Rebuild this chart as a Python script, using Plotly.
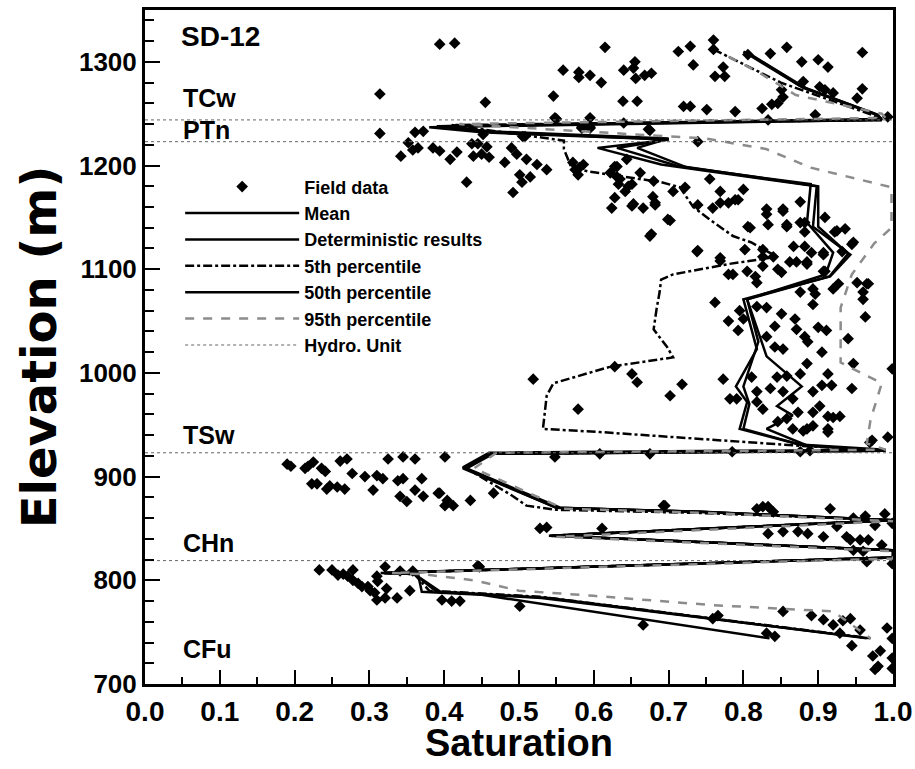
import plotly.graph_objects as go

# ---------------- data ----------------
field_sat = [
    0.394, 0.414, 0.314, 0.455, 0.615, 0.729, 0.713, 0.760, 0.760, 0.806, 0.836, 0.858, 0.959,
    0.559, 0.580, 0.580, 0.595, 0.610, 0.640, 0.653, 0.655, 0.656, 0.668, 0.677, 0.733, 0.773,
    0.762, 0.775, 0.546, 0.639, 0.658, 0.720, 0.729, 0.751, 0.789, 0.825, 0.838, 0.846, 0.853,
    0.851, 0.880, 0.878, 0.900, 0.913, 0.902, 0.909, 0.920, 0.959, 0.952,
    0.548, 0.595, 0.640, 0.584, 0.595, 0.673, 0.833, 0.896, 0.739, 0.505, 0.993,
    0.314, 0.361, 0.372, 0.452, 0.550, 0.584, 0.595, 0.675, 0.508,
    0.352, 0.342, 0.358, 0.365, 0.385, 0.394, 0.408, 0.417, 0.437, 0.445, 0.457, 0.439, 0.450,
    0.460, 0.430, 0.481, 0.490, 0.497, 0.510, 0.524, 0.537, 0.501, 0.515, 0.504, 0.492, 0.572,
    0.575, 0.581, 0.586, 0.579, 0.628, 0.622, 0.631, 0.633, 0.651, 0.662, 0.642,
    0.631, 0.644, 0.646, 0.635, 0.680, 0.706, 0.628, 0.679, 0.653, 0.666, 0.682, 0.624, 0.702,
    0.677, 0.739, 0.755, 0.769, 0.769, 0.780, 0.793, 0.800, 0.831, 0.831, 0.853, 0.858, 0.833,
    0.806, 0.909, 0.882, 0.925, 0.936, 0.945, 0.882, 0.867, 0.891, 0.907, 0.932, 0.802, 0.826,
    0.769, 0.739, 0.759, 0.789, 0.722,
    0.922, 0.947, 0.876, 0.876, 0.882, 0.853, 0.858, 0.809, 0.738, 0.675, 0.699, 0.651, 0.682,
    0.826, 0.840, 0.871, 0.885, 0.907, 0.769, 0.780, 0.805, 0.816, 0.826, 0.851, 0.876, 0.893,
    0.909, 0.927, 0.952, 0.965, 0.960,
    0.786, 0.818, 0.846, 0.862, 0.885, 0.907, 0.920, 0.967, 0.960, 0.963, 0.940, 0.947, 0.945,
    0.893, 0.905, 0.918, 0.913, 0.905, 0.885, 0.876, 0.858, 0.845, 0.853, 0.866, 0.873, 0.893,
    0.902, 0.913, 0.920, 0.929, 0.913, 0.893, 0.885, 0.866, 0.858, 0.846, 0.818, 0.826, 0.836,
    0.818, 0.782, 0.791, 0.773, 0.811, 0.831, 0.842, 0.853, 0.871, 0.900, 0.911, 0.882, 0.886,
    0.869, 0.842, 0.851, 0.818, 0.831, 0.795, 0.800, 0.793, 0.780, 0.762, 0.893, 0.896, 0.999,
    0.519, 0.628, 0.651, 0.658, 0.718, 0.702, 0.579,
    0.993, 0.969, 0.548, 0.608, 0.675, 0.785, 0.876, 0.889, 0.880, 0.913, 0.972,
    0.190, 0.195, 0.214, 0.218, 0.225, 0.236, 0.241, 0.261, 0.270, 0.277, 0.294, 0.310, 0.318,
    0.338, 0.345, 0.370, 0.361, 0.401, 0.223, 0.230, 0.243, 0.247, 0.257, 0.267, 0.305, 0.341,
    0.350, 0.361, 0.372, 0.392, 0.404, 0.412, 0.401, 0.435, 0.466, 0.394, 0.325, 0.345,
    0.528, 0.537, 0.611, 0.695,
    0.693, 0.818, 0.826, 0.833, 0.840, 0.916, 0.947, 0.963, 0.976, 0.989, 0.925, 0.833, 0.853,
    0.873, 0.886, 0.907, 0.938, 0.943, 0.956, 0.967, 0.985, 0.947, 0.960, 0.965, 0.999, 0.999,
    0.447, 0.358,
    0.233, 0.250, 0.258, 0.265, 0.271, 0.278, 0.278, 0.285, 0.290, 0.298, 0.301, 0.321, 0.310,
    0.311, 0.307, 0.310, 0.321, 0.323, 0.337, 0.341, 0.354, 0.397, 0.410, 0.421, 0.445, 0.501,
    0.666, 0.759, 0.766, 0.831, 0.842, 0.853, 0.891, 0.907, 0.920, 0.933, 0.943, 0.956, 0.945,
    0.992, 0.929, 0.983, 0.973, 0.999, 0.999, 0.980, 0.976, 0.999,
]
field_elev = [
    1317, 1318, 1269, 1261, 1314, 1315, 1310, 1321, 1312, 1307, 1308, 1314, 1309,
    1292, 1290, 1285, 1287, 1280, 1292, 1294, 1300, 1284, 1287, 1289, 1297, 1295,
    1286, 1286, 1267, 1262, 1262, 1257, 1257, 1254, 1252, 1255, 1259, 1260, 1266,
    1273, 1281, 1300, 1302, 1295, 1276, 1273, 1270, 1274, 1265,
    1246, 1246, 1241, 1237, 1237, 1235, 1244, 1249, 1223, 1228, 1247,
    1231, 1232, 1233, 1230, 1245, 1236, 1236, 1234, 1228,
    1222, 1209, 1215, 1217, 1217, 1214, 1206, 1213, 1221, 1221, 1218, 1209, 1211,
    1208, 1184, 1203, 1217, 1211, 1206, 1201, 1196, 1191, 1189, 1184, 1174, 1203,
    1196, 1198, 1201, 1191, 1199, 1193, 1189, 1182, 1182, 1193, 1175,
    1199, 1206, 1180, 1187, 1185, 1175, 1169, 1170, 1163, 1159, 1164, 1159, 1147,
    1134, 1118, 1187, 1175, 1164, 1164, 1167, 1177, 1158, 1153, 1156, 1143, 1143,
    1141, 1150, 1145, 1137, 1139, 1124, 1122, 1122, 1116, 1116, 1117, 1119, 1119,
    1111, 1162, 1159, 1167, 1179,
    1136, 1126, 1165, 1145, 1136, 1158, 1141, 1140, 1117, 1132, 1148, 1161, 1162,
    1112, 1112, 1107, 1107, 1114, 1108, 1095, 1098, 1093, 1103, 1097, 1078, 1081,
    1098, 1086, 1087, 1086, 1078,
    1095, 1087, 1100, 1107, 1105, 1098, 1081, 1086, 1071, 1054, 1033, 1009, 985,
    982, 988, 988, 999, 1020, 1009, 999, 997, 996, 982, 975, 962, 962,
    968, 958, 957, 958, 946, 949, 946, 946, 956, 953, 972, 965, 985,
    982, 975, 975, 994, 996, 1035, 1025, 1023, 1042, 1044, 1041, 1035, 1030,
    1052, 1045, 1057, 1064, 1063, 1060, 1052, 1041, 1050, 1068, 1066, 1076, 1004,
    994, 1006, 999, 991, 989, 978, 965,
    938, 933, 919, 922, 922, 924, 924, 925, 944, 943, 935,
    912, 910, 908, 910, 914, 908, 905, 915, 917, 903, 900, 901, 898,
    896, 898, 898, 917, 919, 893, 893, 888, 891, 890, 888, 887, 881,
    876, 887, 881, 884, 877, 872, 872, 877, 884, 884, 917, 919,
    850, 851, 850, 872,
    872, 869, 871, 871, 866, 869, 860, 862, 853, 864, 852, 845, 847,
    847, 845, 842, 842, 839, 839, 839, 834, 829, 828, 818, 855, 816,
    813, 809,
    810, 810, 805, 806, 804, 810, 800, 797, 794, 794, 790, 813, 804,
    799, 788, 781, 783, 792, 783, 809, 790, 781, 780, 780, 814, 775,
    757, 763, 766, 749, 746, 770, 766, 762, 757, 761, 763, 752, 737,
    754, 749, 732, 727, 744, 725, 717, 714, 715,
]

mean_sat = [0.805, 0.880, 0.978, 0.985, 0.380, 0.450, 0.700, 0.605, 0.690, 0.898, 0.893, 0.943,
            0.916, 0.800, 0.818, 0.790, 0.805, 0.795, 0.880, 0.990, 0.460, 0.425, 0.550, 0.740,
            1.000, 0.540, 1.000, 1.000, 0.315, 0.360, 0.390, 0.530, 0.970]
mean_elev = [1309, 1275, 1249, 1244, 1237, 1232, 1225, 1217, 1201, 1180, 1141, 1114,
             1093, 1071, 1023, 987, 972, 946, 930, 925, 922, 908, 870, 866,
             858, 843, 829, 822, 807, 806, 789, 783, 744]

det_sat = [0.800, 0.875, 0.975, 0.985, 0.390, 0.460, 0.700, 0.658, 0.725, 0.890, 0.885, 0.920,
           0.910, 0.805, 0.820, 0.800, 0.808, 0.800, 0.875, 0.990, 0.460, 0.425, 0.550, 0.740,
           1.000, 0.545, 1.000, 1.000, 0.320, 0.365, 0.370, 0.450, 0.835]
det_elev = [1310, 1277, 1250, 1245, 1238, 1233, 1226, 1217, 1198, 1182, 1145, 1116,
            1095, 1071, 1030, 987, 970, 946, 931, 926, 923, 909, 870, 866,
            858, 843, 829, 822, 807, 806, 789, 786, 744]

p50_sat = [0.810, 0.885, 0.980, 0.985, 0.400, 0.470, 0.700, 0.631, 0.710, 0.900, 0.900, 0.940,
           0.915, 0.805, 0.831, 0.878, 0.845, 0.866, 0.831, 0.885, 0.990, 0.465, 0.430, 0.555,
           0.745, 1.000, 0.545, 1.000, 1.000, 0.320, 0.360, 0.395, 0.540, 0.965]
p50_elev = [1307, 1274, 1249, 1244, 1238, 1232, 1225, 1217, 1200, 1180, 1141, 1115,
            1093, 1071, 1016, 987, 968, 959, 946, 930, 925, 922, 908, 870,
            866, 858, 843, 829, 822, 807, 806, 789, 783, 744]

p5_sat = [0.760, 0.850, 0.975, 0.985, 0.410, 0.560, 0.560, 0.565, 0.570, 0.595, 0.640, 0.660,
          0.690, 0.715, 0.733, 0.755, 0.786, 0.810, 0.845, 0.780, 0.706, 0.690, 0.688, 0.684,
          0.680, 0.698, 0.706, 0.622, 0.546, 0.537, 0.532, 0.608, 0.786, 0.870, 0.990, 0.460,
          0.430, 0.490, 0.510, 0.550, 0.740, 1.000, 0.540, 1.000, 1.000, 0.320, 0.360, 0.380,
          0.530, 0.960]
p5_elev = [1312, 1280, 1248, 1244, 1239, 1224, 1216, 1207, 1198, 1194, 1189, 1187,
           1184, 1179, 1160, 1148, 1132, 1126, 1112, 1105, 1095, 1090, 1078, 1062,
           1042, 1025, 1015, 1006, 990, 978, 946, 943, 934, 930, 925, 922,
           908, 882, 872, 868, 865, 858, 843, 829, 822, 807, 806, 790,
           784, 745]

p95_sat = [0.780, 0.820, 0.870, 0.985, 0.990, 0.420, 0.750, 0.830, 0.890, 0.940, 0.998, 0.998,
           0.975, 0.945, 0.930, 0.930, 0.985, 0.970, 0.965, 0.990, 0.470, 0.440, 0.560, 0.750,
           1.000, 0.550, 1.000, 1.000, 0.330, 0.370, 0.440, 0.500, 0.600, 0.760, 0.920, 0.970]
p95_elev = [1305, 1290, 1268, 1250, 1246, 1240, 1226, 1216, 1198, 1189, 1179, 1140,
            1125, 1095, 1063, 1010, 990, 955, 932, 926, 923, 908, 869, 865,
            857, 842, 828, 821, 807, 806, 800, 790, 785, 776, 770, 744]

hydro_elev = [1244, 1223, 923, 819]

unit_names = ["TCw", "PTn", "TSw", "CHn", "CFu"]
unit_label_elev = [1265, 1234, 940, 836, 734]

x_ticks = [0.0, 0.1, 0.2, 0.3, 0.4, 0.5, 0.6, 0.7, 0.8, 0.9, 1.0]
y_ticks = [700, 800, 900, 1000, 1100, 1200, 1300]

# ---------------- figure ----------------
FONT = "Liberation Sans, Arial, sans-serif"
fig = go.Figure()

hx, hy = [], []
for e in hydro_elev:
    hx += [0, 1, None]
    hy += [e, e, None]

fig.add_trace(go.Scatter(x=field_sat, y=field_elev, mode="markers", name="Field data",
                         marker=dict(symbol="diamond", size=9, color="black")))
fig.add_trace(go.Scatter(x=mean_sat, y=mean_elev, mode="lines", name="Mean",
                         line=dict(color="black", width=2.5)))
fig.add_trace(go.Scatter(x=det_sat, y=det_elev, mode="lines", name="Deterministic results",
                         line=dict(color="black", width=2.5)))
fig.add_trace(go.Scatter(x=p5_sat, y=p5_elev, mode="lines", name="5th percentile",
                         line=dict(color="black", width=2.5, dash="dashdot")))
fig.add_trace(go.Scatter(x=p50_sat, y=p50_elev, mode="lines", name="50th percentile",
                         line=dict(color="black", width=2.5)))
fig.add_trace(go.Scatter(x=p95_sat, y=p95_elev, mode="lines", name="95th percentile",
                         line=dict(color="#8c8c8c", width=2.5, dash="dash")))
fig.add_trace(go.Scatter(x=hx, y=hy, mode="lines", name="Hydro. Unit",
                         line=dict(color="#666666", width=1, dash="dot")))

fig.add_annotation(x=0.045, y=1324, text="SD-12", showarrow=False, xanchor="left",
                   font=dict(family=FONT, size=28, color="black", weight="bold"))
for name, e in zip(unit_names, unit_label_elev):
    fig.add_annotation(x=0.048, y=e, text=name, showarrow=False, xanchor="left",
                       font=dict(family=FONT, size=25, color="black", weight="bold"))

# x-axis title placed just under the tick labels
fig.add_annotation(x=0.5, xref="paper", y=-0.088, yref="paper", text="Saturation",
                   showarrow=False, xanchor="center", yanchor="middle", borderpad=0,
                   font=dict(family=FONT, size=38, color="black", weight="bold"))

fig.update_layout(
    width=915, height=769,
    margin=dict(l=145, r=22, t=10, b=85),
    paper_bgcolor="white", plot_bgcolor="white",
    showlegend=True,
    legend=dict(x=0.047, y=0.765, xanchor="left", yanchor="top",
                bgcolor="rgba(0,0,0,0)", borderwidth=0, itemwidth=114,
                tracegroupgap=0,
                font=dict(family=FONT, size=18, color="black", weight="bold")),
    font=dict(family=FONT, color="black"),
)
fig.update_xaxes(
    range=[0, 1], tickvals=x_ticks, ticktext=[f"{v:.1f}" for v in x_ticks],
    ticks="inside", ticklen=14, tickwidth=2, tickcolor="black",
    minor=dict(dtick=0.05, ticks="inside", ticklen=7, tickwidth=2, tickcolor="black"),
    showline=True, linewidth=3, linecolor="black", mirror=True, showgrid=False, zeroline=False,
    tickfont=dict(family=FONT, size=28, weight="bold"), ticklabeloverflow="allow",
    automargin=False,
)
fig.update_yaxes(
    range=[700, 1350], tickvals=y_ticks,
    ticks="inside", ticklen=15, tickwidth=2, tickcolor="black",
    minor=dict(dtick=20, tick0=700, ticks="inside", ticklen=9, tickwidth=2, tickcolor="black"),
    showline=True, linewidth=3, linecolor="black", mirror=True, showgrid=False, zeroline=False,
    tickfont=dict(family=FONT, size=26, weight="bold"), ticklabeloverflow="allow",
    automargin=False,
    title=dict(text="Elevation (m)", font=dict(family="DejaVu Sans, " + FONT, size=48, weight="bold"),
               standoff=8),
)

fig.write_html("out.html")
